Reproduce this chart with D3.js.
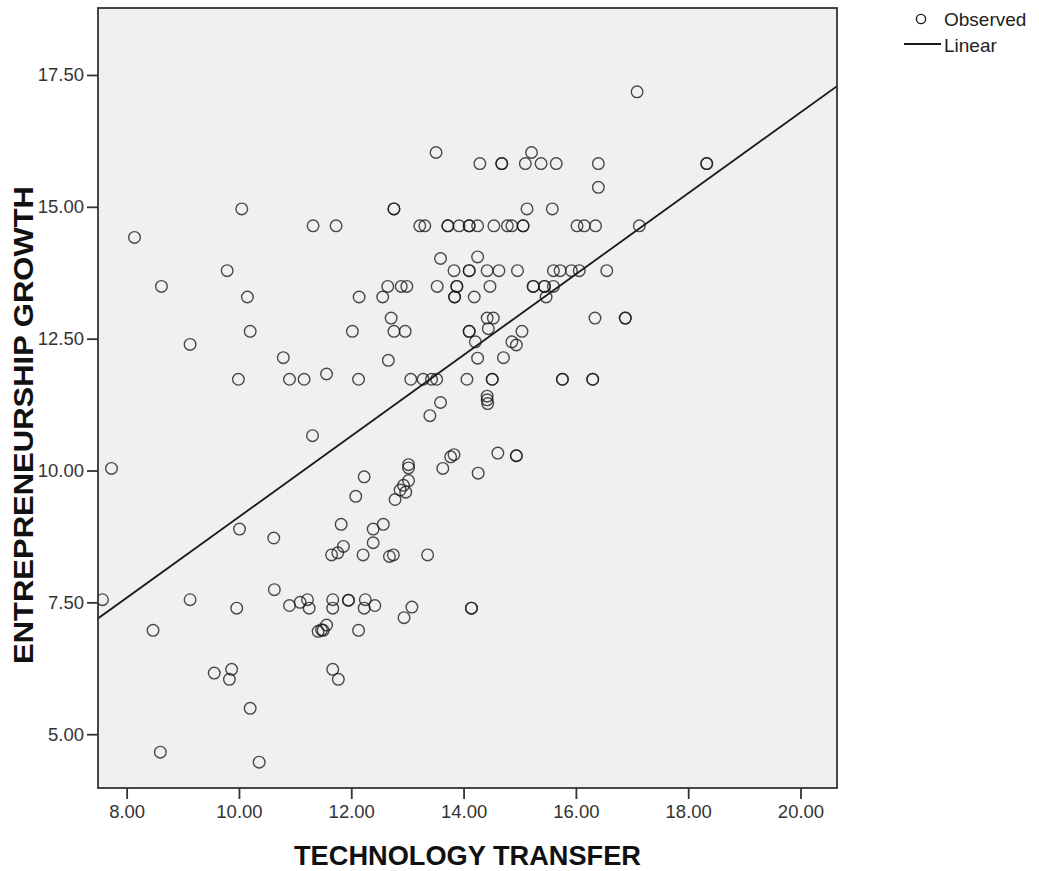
<!DOCTYPE html>
<html>
<head>
<meta charset="utf-8">
<script src="https://cdn.jsdelivr.net/npm/d3@7/dist/d3.min.js"></script>
<style>
  html, body { margin: 0; padding: 0; background: #ffffff; }
  svg { display: block; }
  text { font-family: "Liberation Sans", Arial, sans-serif; }
</style>
</head>
<body>
<svg id="chart" width="1039" height="871"></svg>
<script>
// ---- data ----
const techTransfer = [
  17.09, 13.51, 15.21, 14.29, 14.68, 14.68, 15.10, 15.38, 15.65, 16.40, 18.33, 18.33,
  16.40, 10.05, 12.76, 12.76, 15.13, 15.58, 11.32, 11.73, 13.22, 13.31, 13.72, 13.72,
  13.92, 14.10, 14.10, 14.25, 14.54, 14.78, 14.86, 15.06, 15.06, 16.02, 16.15, 16.35,
  17.13, 8.14, 13.59, 14.25, 9.79, 13.83, 14.10, 14.10, 14.42, 14.63, 14.96, 15.60,
  15.72, 15.92, 16.06, 16.55, 8.62, 12.65, 12.89, 12.99, 13.53, 13.88, 13.88, 14.47,
  15.24, 15.24, 15.44, 15.44, 15.60, 10.15, 12.14, 12.56, 13.84, 13.84, 14.19, 15.47,
  12.71, 14.42, 14.53, 16.34, 16.88, 16.88, 10.20, 12.02, 12.76, 12.96, 14.10, 14.10,
  14.44, 15.04, 9.13, 14.21, 14.86, 14.94, 10.79, 12.66, 14.25, 14.71, 11.56, 9.99,
  10.90, 11.16, 12.13, 13.06, 13.28, 13.43, 13.52, 14.06, 14.51, 14.51, 15.76, 15.76,
  16.30, 16.30, 13.59, 14.42, 14.42, 14.43, 13.40, 11.31, 14.61, 13.77, 13.83, 14.94,
  14.94, 7.73, 13.02, 13.02, 13.63, 14.26, 12.23, 13.02, 12.93, 12.87, 12.97, 12.08,
  12.78, 10.01, 10.62, 11.82, 12.39, 12.57, 12.39, 11.65, 11.76, 11.86, 12.21, 12.68,
  12.75, 13.36, 7.57, 9.13, 10.63, 9.96, 10.90, 11.09, 11.22, 11.25, 11.67, 11.67,
  11.95, 11.95, 12.25, 12.23, 12.42, 13.08, 12.94, 14.14, 14.14, 8.47, 11.56, 11.47,
  11.41, 11.50, 12.13, 9.56, 9.87, 9.83, 11.67, 11.77, 10.20, 8.60, 10.36
];
const entrepreneurshipGrowth = [
  17.18, 16.03, 16.03, 15.82, 15.82, 15.82, 15.82, 15.82, 15.82, 15.82, 15.82, 15.82,
  15.37, 14.96, 14.96, 14.96, 14.96, 14.96, 14.64, 14.64, 14.64, 14.64, 14.64, 14.64,
  14.64, 14.64, 14.64, 14.64, 14.64, 14.64, 14.64, 14.64, 14.64, 14.64, 14.64, 14.64,
  14.64, 14.42, 14.02, 14.05, 13.79, 13.79, 13.79, 13.79, 13.79, 13.79, 13.79, 13.79,
  13.79, 13.79, 13.79, 13.79, 13.49, 13.49, 13.49, 13.49, 13.49, 13.49, 13.49, 13.49,
  13.49, 13.49, 13.49, 13.49, 13.49, 13.29, 13.29, 13.29, 13.29, 13.29, 13.29, 13.29,
  12.89, 12.89, 12.89, 12.89, 12.89, 12.89, 12.64, 12.64, 12.64, 12.64, 12.64, 12.64,
  12.69, 12.64, 12.39, 12.44, 12.44, 12.38, 12.14, 12.09, 12.13, 12.14, 11.83, 11.73,
  11.73, 11.73, 11.73, 11.73, 11.73, 11.73, 11.73, 11.73, 11.73, 11.73, 11.73, 11.73,
  11.73, 11.73, 11.29, 11.41, 11.34, 11.27, 11.04, 10.66, 10.33, 10.26, 10.30, 10.28,
  10.28, 10.04, 10.11, 10.05, 10.04, 9.95, 9.88, 9.81, 9.72, 9.63, 9.59, 9.51,
  9.45, 8.89, 8.72, 8.98, 8.89, 8.98, 8.63, 8.40, 8.44, 8.56, 8.40, 8.37,
  8.40, 8.40, 7.55, 7.55, 7.74, 7.39, 7.44, 7.50, 7.55, 7.39, 7.55, 7.39,
  7.54, 7.54, 7.55, 7.39, 7.44, 7.41, 7.21, 7.39, 7.39, 6.97, 7.07, 6.98,
  6.95, 6.97, 6.97, 6.16, 6.23, 6.04, 6.23, 6.04, 5.49, 4.66, 4.47
];
// linear fit shown in the reference (intercept, slope)
const fitIntercept = 1.45;
const fitSlope = 0.767;

const xDomain = [7.49, 20.65];
const yDomain = [3.98, 18.77];
const xTicks = [8, 10, 12, 14, 16, 18, 20];
const yTicks = [5, 7.5, 10, 12.5, 15, 17.5];
const xTitle = "TECHNOLOGY TRANSFER";
const yTitle = "ENTREPRENEURSHIP GROWTH";
const legendLabels = ["Observed", "Linear"];

// ---- layout ----
const plot = { left: 98, top: 8, right: 837, bottom: 788 };
const svg = d3.select("#chart");

const x = d3.scaleLinear().domain(xDomain).range([plot.left, plot.right]);
const y = d3.scaleLinear().domain(yDomain).range([plot.bottom, plot.top]);

svg.append("defs").append("clipPath").attr("id", "clip")
  .append("rect")
  .attr("x", plot.left).attr("y", plot.top)
  .attr("width", plot.right - plot.left).attr("height", plot.bottom - plot.top);

// background
svg.append("rect")
  .attr("x", plot.left).attr("y", plot.top)
  .attr("width", plot.right - plot.left).attr("height", plot.bottom - plot.top)
  .attr("fill", "#f0f0f0");

const data = techTransfer.map((v, i) => ({ x: v, y: entrepreneurshipGrowth[i] }));

const g = svg.append("g").attr("clip-path", "url(#clip)");

// fit line
g.append("line")
  .attr("x1", x(xDomain[0])).attr("y1", y(fitIntercept + fitSlope * xDomain[0]))
  .attr("x2", x(xDomain[1])).attr("y2", y(fitIntercept + fitSlope * xDomain[1]))
  .attr("stroke", "#1a1a1a").attr("stroke-width", 1.8);

// points
g.selectAll("circle.pt").data(data).join("circle")
  .attr("class", "pt")
  .attr("cx", d => x(d.x)).attr("cy", d => y(d.y))
  .attr("r", 5.8)
  .attr("fill", "none")
  .attr("stroke", "#1a1a1a")
  .attr("stroke-opacity", 0.78)
  .attr("stroke-width", 1.4);

// frame
svg.append("rect")
  .attr("x", plot.left).attr("y", plot.top)
  .attr("width", plot.right - plot.left).attr("height", plot.bottom - plot.top)
  .attr("fill", "none").attr("stroke", "#333").attr("stroke-width", 1.8);

// axes
const fmt = d3.format(".2f");
const xAxis = svg.append("g")
  .attr("transform", `translate(0,${plot.bottom})`)
  .call(d3.axisBottom(x).tickValues(xTicks).tickFormat(fmt).tickSize(11).tickPadding(6));
const yAxis = svg.append("g")
  .attr("transform", `translate(${plot.left},0)`)
  .call(d3.axisLeft(y).tickValues(yTicks).tickFormat(fmt).tickSize(11).tickPadding(3));
[xAxis, yAxis].forEach(a => {
  a.select(".domain").remove();
  a.selectAll(".tick line").attr("stroke", "#333").attr("stroke-width", 1.8);
  a.selectAll(".tick text")
    .attr("fill", "#333")
    .style("font-size", "18.5px")
    .style("font-family", "'Liberation Sans', Arial, sans-serif");
});

// axis titles
svg.append("text")
  .attr("x", (plot.left + plot.right) / 2).attr("y", 865)
  .attr("text-anchor", "middle")
  .style("font-size", "27px").style("font-weight", "bold")
  .attr("fill", "#111")
  .attr("textLength", 347).attr("lengthAdjust", "spacingAndGlyphs")
  .text(xTitle);

svg.append("text")
  .attr("transform", `translate(33,425) rotate(-90)`)
  .attr("text-anchor", "middle")
  .style("font-size", "27px").style("font-weight", "bold")
  .attr("fill", "#111")
  .attr("textLength", 478).attr("lengthAdjust", "spacingAndGlyphs")
  .text(yTitle);

// legend
const lg = svg.append("g");
lg.append("circle").attr("cx", 921).attr("cy", 19).attr("r", 4.6)
  .attr("fill", "none").attr("stroke", "#1a1a1a").attr("stroke-width", 1.4);
lg.append("text").attr("x", 944).attr("y", 26)
  .style("font-size", "19px").attr("fill", "#222").text(legendLabels[0]);
lg.append("line").attr("x1", 904).attr("x2", 941).attr("y1", 44).attr("y2", 44)
  .attr("stroke", "#1a1a1a").attr("stroke-width", 1.8);
lg.append("text").attr("x", 944).attr("y", 52)
  .style("font-size", "19px").attr("fill", "#222").text(legendLabels[1]);
</script>
</body>
</html>
